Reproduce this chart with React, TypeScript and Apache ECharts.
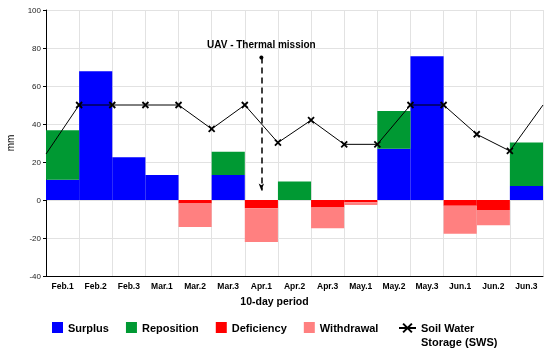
import React, { useEffect, useRef } from "react";
import * as echarts from "echarts";

const categories = ["Feb.1", "Feb.2", "Feb.3", "Mar.1", "Mar.2", "Mar.3", "Apr.1", "Apr.2", "Apr.3", "May.1", "May.2", "May.3", "Jun.1", "Jun.2", "Jun.3"];
const surplus = [10.7, 67.7, 22.5, 13.1, 0, 13.1, 0, 0, 0, 0, 27, 75.6, 0, 0, 7.4];
const reposition = [26, 0, 0, 0, 0, 12.3, 0, 9.8, 0, 0, 19.8, 0, 0, 0, 22.9];
const deficiency = [0, 0, 0, 0, -1.9, 0, -4.4, 0, -4, -1.2, 0, 0, -3, -5.3, 0];
const withdrawal = [0, 0, 0, 0, -12.3, 0, -17.7, 0, -10.9, -1.4, 0, 0, -14.7, -8, 0];
// Soil water storage at the period boundaries (0..15)
const sws = [24.2, 50, 50, 50, 50, 37.4, 50, 30.2, 42, 29.3, 29.3, 50, 50, 34.6, 25.8, 50];
const yTicks = { min: -40, max: 100, interval: 20 };
const missionPeriod = "Apr.1";
const missionArrow = [75, 5];
const missionLabel = "UAV - Thermal mission";

const FONT = 'Arial, "Liberation Sans", sans-serif';
const X_SYMBOL = "path://M0,0L10,10M0,10L10,0";

export default function App() {
  const ref = useRef<HTMLDivElement>(null);
  useEffect(() => {
    if (!ref.current) return;
    const chart = echarts.init(ref.current, undefined, { renderer: "svg" });
    const swsName = "Soil Water Storage (SWS)";
    chart.setOption({
      animation: false,
      textStyle: { fontFamily: FONT },
      grid: { left: 46, right: 7, top: 10, bottom: 78, containLabel: false, outerBoundsMode: "none" },
      legend: [
        {
          data: ["Surplus", "Reposition", "Deficiency", "Withdrawal"],
          left: 52,
          top: 322,
          padding: 0,
          itemWidth: 11,
          itemHeight: 11,
          itemGap: 17,
          icon: "rect",
          textStyle: { fontFamily: FONT, fontSize: 11, fontWeight: "bold", color: "#000" },
        },
        {
          data: [swsName],
          left: 398,
          top: 307,
          padding: 0,
          itemWidth: 17,
          itemHeight: 11,
          formatter: () => "\u00a0\nSoil Water\nStorage (SWS)",
          textStyle: { fontFamily: FONT, fontSize: 11, fontWeight: "bold", color: "#000", lineHeight: 14 },
        },
      ],
      xAxis: [
        {
          type: "category",
          data: categories,
          boundaryGap: true,
          axisLine: { onZero: false, lineStyle: { color: "#000", width: 1 } },
          axisTick: { show: false },
          axisLabel: { fontFamily: FONT, fontSize: 8.5, fontWeight: "bold", color: "#000", margin: 5, interval: 0 },
          splitLine: { show: true, lineStyle: { color: "#e2e2e2", width: 1 } },
          name: "10-day period",
          nameLocation: "middle",
          nameGap: 19,
          nameTextStyle: { fontFamily: FONT, fontSize: 10.5, fontWeight: "bold", color: "#000", padding: [0, 40, 0, 0] },
        },
        {
          type: "value",
          min: 0,
          max: 15,
          show: false,
        },
      ],
      yAxis: {
        type: "value",
        min: yTicks.min,
        max: yTicks.max,
        interval: yTicks.interval,
        axisLine: { show: true, lineStyle: { color: "#000", width: 1 } },
        axisTick: { show: true, length: 3, lineStyle: { color: "#000" } },
        axisLabel: { fontFamily: FONT, fontSize: 8, color: "#222", margin: 5 },
        splitLine: { show: true, lineStyle: { color: "#e2e2e2", width: 1 } },
        name: "mm",
        nameLocation: "middle",
        nameRotate: 90,
        nameGap: 31,
        nameTextStyle: { fontFamily: FONT, fontSize: 10, color: "#000" },
      },
      series: [
        {
          name: "Surplus",
          type: "bar",
          stack: "a",
          data: surplus,
          barCategoryGap: "0%",
          itemStyle: { color: "#0000ff" },
          markLine: {
            silent: true,
            symbol: ["circle", "arrow"],
            symbolSize: [4, 7],
            lineStyle: { color: "#000", type: [6, 4], width: 1.5 },
            label: {
              show: true,
              position: "start",
              distance: 8,
              formatter: missionLabel,
              fontFamily: FONT,
              fontSize: 10,
              fontWeight: "bold",
              color: "#000",
            },
            data: [[{ coord: [missionPeriod, missionArrow[0]] }, { coord: [missionPeriod, missionArrow[1]] }]],
          },
        },
        { name: "Reposition", type: "bar", stack: "a", data: reposition, barCategoryGap: "0%", itemStyle: { color: "#009933" } },
        { name: "Deficiency", type: "bar", stack: "a", data: deficiency, barCategoryGap: "0%", itemStyle: { color: "#ff0000" } },
        { name: "Withdrawal", type: "bar", stack: "a", data: withdrawal, barCategoryGap: "0%", itemStyle: { color: "#ff8080" } },
        {
          name: swsName,
          type: "line",
          xAxisIndex: 1,
          data: sws.map((v, i) => ({
            value: [i, v],
            symbol: i === 0 || i === sws.length - 1 ? "none" : X_SYMBOL,
          })),
          symbol: X_SYMBOL,
          symbolSize: 6,
          showAllSymbol: true,
          lineStyle: { color: "#000", width: 1 },
          itemStyle: { color: "#000", borderColor: "#000", borderWidth: 1.8 },
          z: 5,
        },
      ],
    });
    return () => chart.dispose();
  }, []);
  return <div ref={ref} style={{ position: "fixed", left: 0, top: 0, width: 550, height: 354 }} />;
}
